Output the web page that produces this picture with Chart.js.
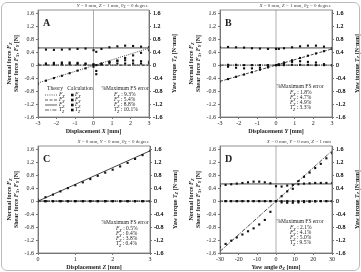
<!DOCTYPE html>
<html>
<head>
<meta charset="utf-8">
<script src="https://cdn.jsdelivr.net/npm/chart.js@4"></script>
<style>
  body { margin: 0; background: #fff; }
  #wrap { position: relative; width: 361px; height: 272px; overflow: hidden; }
  #frame { position: absolute; left: 1px; top: 2px; width: 357px; height: 267px; border: 1px solid #bbb; border-radius: 6px; pointer-events: none; }
  canvas { position: absolute; }
</style>
</head>
<body>
<div id="wrap">
  <canvas id="cA" width="180" height="136" style="left:0;top:0"></canvas>
  <canvas id="cB" width="181" height="136" style="left:180px;top:0"></canvas>
  <canvas id="cC" width="180" height="136" style="left:0;top:136px"></canvas>
  <canvas id="cD" width="181" height="136" style="left:180px;top:136px"></canvas>
  <div id="frame"></div>
</div>
<script>
// ---- data: panel A (displacement X) ----
const xA   = [-3, -2.57, -2.14, -1.71, -1.29, -0.86, -0.43, 0, 0.15, 0.43, 0.86, 1.29, 1.71, 2.14, 2.57, 3];
const fxA  = [-0.57, -0.48, -0.4, -0.33, -0.25, -0.17, -0.1, -0.05, -0.28, 0.02, 0.1, 0.14, 0.22, 0.3, 0.38, 0.46];
const fyA  = [0.02, 0.03, 0.03, 0.04, 0.04, 0.04, 0.03, 0.02, 0.0, 0.03, 0.05, 0.05, 0.05, 0.05, 0.05, 0.05];
const fzA  = [0.53, 0.48, 0.47, 0.48, 0.49, 0.5, 0.51, 0.46, 0.41, 0.5, 0.55, 0.58, 0.6, 0.59, 0.57, 0.56];
const tzA  = [0.03, 0.05, 0.07, 0.08, 0.08, 0.07, 0.05, 0.02, -0.18, 0.05, 0.1, 0.13, 0.15, 0.14, 0.12, 0.1];
const thXA = [-3, 3];
const thFxA = [-0.55, 0.52];
const thFzA = [0.53, 0.53];

// ---- data: panel B (displacement Y) ----
const xB   = [-3, -2.57, -2.14, -1.71, -1.29, -0.86, -0.43, 0, 0.15, 0.43, 0.86, 1.29, 1.71, 2.14, 2.57, 3];
const fxB  = [0.01, 0.01, 0.01, 0.0, 0.0, 0.0, 0.0, 0.0, 0.0, 0.0, 0.01, 0.01, 0.01, 0.0, 0.0, 0.0];
const fyB  = [-0.5, -0.43, -0.36, -0.29, -0.22, -0.14, -0.07, 0.0, 0.02, 0.08, 0.15, 0.22, 0.29, 0.36, 0.43, 0.5];
const fzB  = [0.56, 0.56, 0.55, 0.54, 0.52, 0.51, 0.5, 0.5, 0.5, 0.52, 0.55, 0.58, 0.6, 0.6, 0.57, 0.52];
const tzB  = [-0.02, -0.05, -0.08, -0.1, -0.1, -0.08, -0.05, 0.0, 0.02, 0.05, 0.1, 0.12, 0.1, 0.08, 0.03, -0.01];
const thXB = [-3, 3];
const thFyB = [-0.5, 0.5];
const thFzB = [0.53, 0.53];

// ---- data: panel C (displacement Z) ----
const xC   = [0, 0.2, 0.4, 0.6, 0.8, 1.0, 1.2, 1.4, 1.6, 1.8, 2.0, 2.2, 2.4, 2.6, 2.8, 3.0];
const fzC  = [0.05, 0.12, 0.2, 0.3, 0.4, 0.49, 0.58, 0.68, 0.78, 0.88, 0.97, 1.07, 1.18, 1.3, 1.42, 1.55];
const zeroC = [0, 0, 0, 0, 0, 0, 0, 0, 0, 0, 0, 0, 0, 0, 0, 0];
const thXC = [0, 3];
const thFzC = [0.0, 1.55];

// ---- data: panel D (yaw angle) ----
const xD   = [-30, -27, -24, -21, -18, -15, -12, -9, -6, -3, 0, 3, 6, 9, 12, 15, 18, 21, 24, 27, 30];
const fxD  = [0, 0, 0, 0, 0, 0, 0, 0, 0, 0, 0, 0, 0, 0, 0, 0, 0, 0, 0, 0, 0];
const fyD  = [0, 0, 0, 0, 0, 0, 0, 0, 0, 0, 0, -0.04, -0.05, -0.05, -0.04, -0.03, -0.02, -0.01, 0, 0, 0];
const fzD  = [0.47, 0.5, 0.52, 0.54, 0.56, 0.58, 0.6, 0.6, 0.58, 0.55, 0.46, 0.45, 0.48, 0.5, 0.52, 0.54, 0.55, 0.56, 0.56, 0.56, 0.56];
const tzD  = [-1.42, -1.32, -1.22, -1.12, -1.03, -0.93, -0.84, -0.72, -0.58, -0.33, 0.0, 0.15, 0.3, 0.38, 0.62, 0.75, 0.88, 1.02, 1.15, 1.32, 1.48];
const thXD = [-30, 30];
const thTzD = [-1.55, 1.55];
const thFzD = [0.53, 0.53];

const thZero = [0, 0];
const yTicks = [-1.6, -1.2, -0.8, -0.4, 0, 0.4, 0.8, 1.2, 1.6];

const errA = ['9.3%', '5.4%', '8.8%', '10.1%'];
const errB = ['1.8%', '4.7%', '4.9%', '3.3%'];
const errC = ['0.5%', '0.4%', '3.8%', '0.4%'];
const errD = ['2.1%', '4.1%', '5.0%', '9.5%'];

const FONT = '"Liberation Serif", "DejaVu Serif", serif';
const INK = '#222';

function pts(xs, ys) { return xs.map((x, i) => ({ x: x, y: ys[i] })); }

function fontOf(r, size, bold) {
  const s = r.sub ? size * 0.72 : size;
  return (r.it ? 'italic ' : '') + (bold ? 'bold ' : '') + s + 'px ' + FONT;
}
function drawRuns(ctx, runs, x, y, size, bold, align) {
  let w = 0;
  runs.forEach(r => { ctx.font = fontOf(r, size, bold); w += ctx.measureText(r.t).width; });
  let cx = align === 'center' ? x - w / 2 : (align === 'right' ? x - w : x);
  ctx.textAlign = 'left';
  ctx.textBaseline = 'middle';
  runs.forEach(r => {
    ctx.font = fontOf(r, size, bold);
    ctx.fillText(r.t, cx, y + (r.sub ? size * 0.3 : 0));
    cx += ctx.measureText(r.t).width;
  });
}
const sym = (a, b) => [{ t: a, it: 1 }, { t: b, sub: 1, it: 1 }];

const PANELS = {};

const panelPlugin = {
  id: 'panel',
  beforeDatasetsDraw(chart) {
    const p = PANELS[chart.canvas.id];
    const { ctx, chartArea: a, scales } = chart;
    if (p.zero) {
      const px = scales.x.getPixelForValue(0);
      ctx.save();
      ctx.strokeStyle = '#999';
      ctx.lineWidth = 0.8;
      ctx.beginPath(); ctx.moveTo(px, a.top); ctx.lineTo(px, a.bottom); ctx.stroke();
      ctx.restore();
    }
  },
  afterDraw(chart) {
    const p = PANELS[chart.canvas.id];
    const { ctx, chartArea: a } = chart;
    ctx.save();
    ctx.strokeStyle = '#777';
    ctx.lineWidth = 0.8;
    ctx.strokeRect(a.left, a.top, a.right - a.left, a.bottom - a.top);
    ctx.fillStyle = INK;

    // panel letter
    ctx.font = 'bold 10px ' + FONT;
    ctx.textAlign = 'left'; ctx.textBaseline = 'middle';
    ctx.fillText(p.letter, a.left + 5, a.top + 13);

    // condition text
    ctx.fillStyle = '#444';
    drawRuns(ctx, p.cond, a.right - 1, a.top - 4, 5, false, 'right');
    ctx.fillStyle = INK;

    // axis titles
    const my = (a.top + a.bottom) / 2;
    ctx.save();
    ctx.translate(a.left - 29, my); ctx.rotate(-Math.PI / 2);
    drawRuns(ctx, [{ t: 'Normal force ' }].concat(sym('F', 'Z')), 0, 0, 6, true, 'center');
    ctx.restore();
    ctx.save();
    ctx.translate(a.left - 22, my); ctx.rotate(-Math.PI / 2);
    drawRuns(ctx, [{ t: 'Shear force ' }].concat(sym('F', 'X'), [{ t: ', ' }], sym('F', 'Y'), [{ t: ' [N]' }]), 0, 0, 6, true, 'center');
    ctx.restore();
    ctx.save();
    ctx.translate(a.right + 25, my); ctx.rotate(-Math.PI / 2);
    drawRuns(ctx, [{ t: 'Yaw torque ' }].concat(sym('T', 'Z'), [{ t: ' [N\u00b7mm]' }]), 0, 0, 6, true, 'center');
    ctx.restore();
    drawRuns(ctx, p.xTitle, (a.left + a.right) / 2, a.bottom + 14.5, 6, true, 'center');

    // error box
    const e = p.err;
    drawRuns(ctx, [{ t: '%Maximum FS error' }], e.cx, e.y, 5.5, false, 'center');
    ['X', 'Y', 'Z', 'Z'].forEach((s, i) => {
      const runs = sym(i === 3 ? 'T' : 'F', s).concat([{ t: ' : ' + p.errVals[i] }]);
      drawRuns(ctx, runs, e.rx, e.y + 6 + i * 5, 5.5, false, 'left');
    });

    // legend (panel A)
    if (p.legend) {
      const lx = a.left, ly = e.y;
      drawRuns(ctx, [{ t: 'Theory' }], lx + 17, ly, 5.5, false, 'center');
      drawRuns(ctx, [{ t: 'Calculation' }], lx + 42, ly, 5.5, false, 'center');
      const dashes = [[1, 1.2], [3, 1.5], [], [4, 1.2, 1, 1.2]];
      const names = [['F', 'X'], ['F', 'Y'], ['F', 'Z'], ['T', 'Z']];
      names.forEach((n, i) => {
        const yy = ly + 6 + i * 5;
        ctx.strokeStyle = '#333'; ctx.lineWidth = 0.8; ctx.setLineDash(dashes[i]);
        ctx.beginPath(); ctx.moveTo(lx + 7, yy); ctx.lineTo(lx + 19, yy); ctx.stroke();
        ctx.setLineDash([]);
        drawRuns(ctx, sym(n[0], n[1]), lx + 21, yy, 5.5, false, 'left');
        ctx.fillStyle = '#111';
        ctx.fillRect(lx + 33, yy - 1.3, 2.6, 2.6);
        ctx.fillStyle = INK;
        drawRuns(ctx, sym(n[0], n[1]), lx + 37, yy, 5.5, false, 'left');
      });
    }
    ctx.restore();

    // make sure the right (torque) axis is painted
    chart.scales.y2.draw(a);
  }
};

function lineDs(xs, ys, dash, axis) {
  return { data: pts(xs, ys), showLine: true, pointRadius: 0, borderColor: '#333', borderWidth: 0.9,
           borderDash: dash, yAxisID: axis || 'y', order: 2 };
}
function dotDs(xs, ys, axis) {
  return { data: pts(xs, ys), showLine: false, pointStyle: 'rect', pointRadius: 1.5,
           backgroundColor: '#111', borderWidth: 0, yAxisID: axis || 'y', order: 1 };
}

function yScale(pos, w) {
  return {
    type: 'linear', axis: 'y', display: true,
    position: pos, min: -1.6, max: 1.7,
    afterFit: s => { s.width = w; },
    afterBuildTicks: s => { s.ticks = yTicks.map(v => ({ value: v })); },
    ticks: { font: { family: FONT, size: 6 }, color: INK, padding: 2,
             callback: v => (Math.abs(v) < 1e-9 ? '0' : String(Math.round(v * 10) / 10)) },
    grid: { display: true, drawOnChartArea: false, tickLength: 2, color: '#777' },
    border: { color: '#777' }
  };
}

function makePanel(id, meta, xr, datasets, lw, rw) {
  PANELS[id] = meta;
  return new Chart(document.getElementById(id), {
    type: 'scatter',
    data: { datasets: datasets },
    plugins: [panelPlugin],
    options: {
      responsive: false, animation: false, devicePixelRatio: 1,
      layout: { padding: { top: 10, left: 0, right: 0, bottom: 0 } },
      plugins: { legend: { display: false }, tooltip: { enabled: false } },
      scales: {
        x: {
          type: 'linear', axis: 'x', min: xr[0], max: xr[1],
          afterFit: s => { s.height = 19; },
          ticks: { stepSize: xr[2], font: { family: FONT, size: 6 }, color: INK, padding: 1, maxRotation: 0 },
          grid: { display: true, drawOnChartArea: false, tickLength: 2, color: '#777' },
          border: { color: '#777' }
        },
        y: yScale('left', lw),
        y2: yScale('right', rw)
      }
    }
  });
}

makePanel('cA', {
  letter: 'A', zero: true, legend: true, errVals: errA,
  cond: [{ t: 'Y', it: 1 }, { t: ' = 0 mm, ' }, { t: 'Z', it: 1 }, { t: ' = 1 mm, ' }, { t: '\u03b8', it: 1 }, { t: 'Z', sub: 1 }, { t: ' = 0 degree' }],
  xTitle: [{ t: 'Displacement ' }, { t: 'X', it: 1 }, { t: ' [mm]' }],
  err: { cx: 125, y: 89, rx: 114 }
}, [-3, 3, 1], [
  lineDs(thXA, thFxA, [1, 1.2]), lineDs(thXA, thZero, [3, 1.5]), lineDs(thXA, thFzA, []), lineDs(thXA, thZero, [4, 1.2, 1, 1.2], 'y2'),
  dotDs(xA, fxA), dotDs(xA, fyA), dotDs(xA, fzA), dotDs(xA, tzA, 'y2')
], 38, 31);

makePanel('cB', {
  letter: 'B', zero: true, legend: false, errVals: errB,
  cond: [{ t: 'X', it: 1 }, { t: ' = 0 mm, ' }, { t: 'Z', it: 1 }, { t: ' = 1 mm, ' }, { t: '\u03b8', it: 1 }, { t: 'Z', sub: 1 }, { t: ' = 0 degree' }],
  xTitle: [{ t: 'Displacement ' }, { t: 'Y', it: 1 }, { t: ' [mm]' }],
  err: { cx: 120, y: 87, rx: 110 }
}, [-3, 3, 1], [
  lineDs(thXB, thZero, [1, 1.2]), lineDs(thXB, thFyB, [3, 1.5]), lineDs(thXB, thFzB, []), lineDs(thXB, thZero, [4, 1.2, 1, 1.2], 'y2'),
  dotDs(xB, fxB), dotDs(xB, fyB), dotDs(xB, fzB), dotDs(xB, tzB, 'y2')
], 40, 29);

makePanel('cC', {
  letter: 'C', zero: false, legend: false, errVals: errC,
  cond: [{ t: 'X', it: 1 }, { t: ' = 0 mm, ' }, { t: 'Y', it: 1 }, { t: ' = 0 mm, ' }, { t: '\u03b8', it: 1 }, { t: 'Z', sub: 1 }, { t: ' = 0 degree' }],
  xTitle: [{ t: 'Displacement ' }, { t: 'Z', it: 1 }, { t: ' [mm]' }],
  err: { cx: 125, y: 87, rx: 116 }
}, [0, 3, 1], [
  lineDs(thXC, thZero, [1, 1.2]), lineDs(thXC, thZero, [3, 1.5]), lineDs(thXC, thFzC, []), lineDs(thXC, thZero, [4, 1.2, 1, 1.2], 'y2'),
  dotDs(xC, zeroC), dotDs(xC, zeroC), dotDs(xC, fzC), dotDs(xC, zeroC, 'y2')
], 38, 30);

makePanel('cD', {
  letter: 'D', zero: true, legend: false, errVals: errD,
  cond: [{ t: 'X', it: 1 }, { t: ' = 0 mm, ' }, { t: 'Y', it: 1 }, { t: ' = 0 mm, ' }, { t: 'Z', it: 1 }, { t: ' = 1 mm' }],
  xTitle: [{ t: 'Yaw angle ' }, { t: '\u03b8', it: 1 }, { t: 'Z', sub: 1 }, { t: ' [mm]' }],
  err: { cx: 120, y: 86, rx: 110 }
}, [-30, 30, 10], [
  lineDs(thXD, thZero, [1, 1.2]), lineDs(thXD, thZero, [3, 1.5]), lineDs(thXD, thFzD, []), lineDs(thXD, thTzD, [4, 1.2, 1, 1.2], 'y2'),
  dotDs(xD, fxD), dotDs(xD, fyD), dotDs(xD, fzD), dotDs(xD, tzD, 'y2')
], 40, 29);
</script>
</body>
</html>
